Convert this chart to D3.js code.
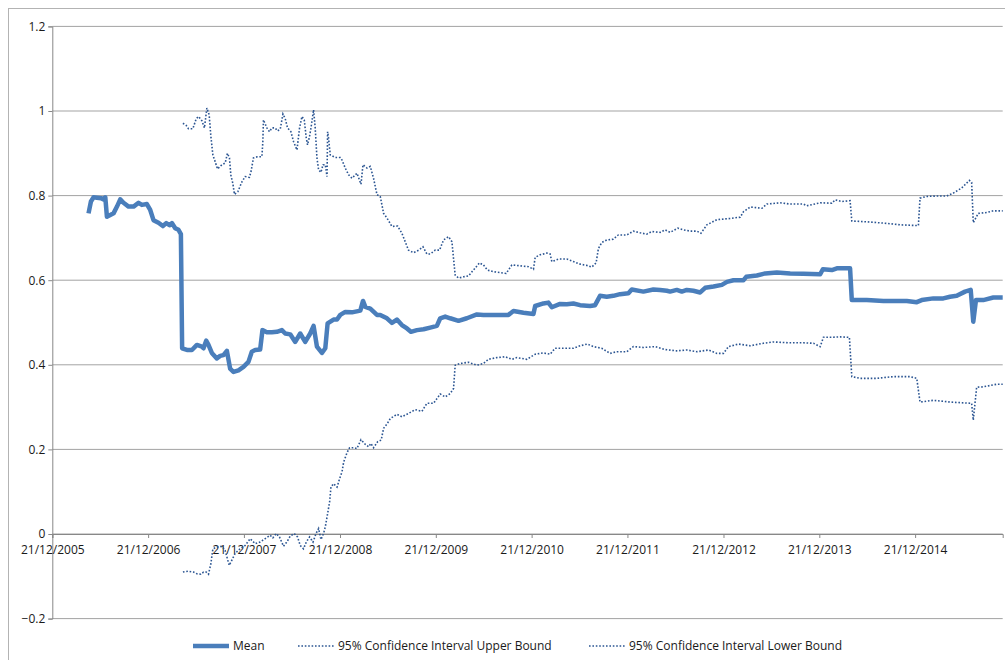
<!DOCTYPE html>
<html>
<head>
<meta charset="utf-8">
<script src="https://cdn.jsdelivr.net/npm/d3@7"></script>
<style>
  body { margin: 0; background: #fff; }
  text { font-family: "Open Sans", sans-serif; fill: #1a1a1a; }
</style>
</head>
<body>
<div id="chart"></div>
<script>
// Tick labels and axis values
const tickLabels = ["21/12/2005", "21/12/2006", "21/12/2007", "21/12/2008", "21/12/2009",
                    "21/12/2010", "21/12/2011", "21/12/2012", "21/12/2013", "21/12/2014"];
const yTicks = [-0.2, 0, 0.2, 0.4, 0.6, 0.8, 1, 1.2];
const xEndYear = 2015.884;

// [decimal year, value]
const meanSeries = [
  [2006.348,0.758],[2006.373,0.786],[2006.401,0.796],[2006.436,0.795],[2006.478,0.794],[2006.505,0.791],
  [2006.523,0.796],[2006.540,0.750],[2006.575,0.754],[2006.609,0.758],[2006.645,0.774],[2006.679,0.791],
  [2006.713,0.783],[2006.766,0.774],[2006.818,0.774],[2006.870,0.783],[2006.905,0.778],[2006.957,0.780],
  [2006.992,0.766],[2007.026,0.742],[2007.078,0.736],[2007.124,0.728],[2007.159,0.735],[2007.193,0.730],
  [2007.218,0.735],[2007.253,0.723],[2007.287,0.719],[2007.312,0.709],[2007.325,0.439],[2007.375,0.435],
  [2007.427,0.435],[2007.479,0.447],[2007.531,0.443],[2007.548,0.439],[2007.576,0.457],[2007.600,0.447],
  [2007.635,0.428],[2007.687,0.415],[2007.722,0.421],[2007.756,0.423],[2007.792,0.433],[2007.826,0.391],
  [2007.861,0.383],[2007.913,0.387],[2007.965,0.395],[2008.017,0.407],[2008.052,0.431],[2008.087,0.435],
  [2008.139,0.436],[2008.163,0.482],[2008.209,0.477],[2008.261,0.477],[2008.313,0.478],[2008.365,0.482],
  [2008.400,0.474],[2008.452,0.472],[2008.504,0.454],[2008.556,0.474],[2008.608,0.454],[2008.660,0.474],
  [2008.695,0.492],[2008.730,0.443],[2008.782,0.428],[2008.817,0.439],[2008.841,0.498],[2008.903,0.507],
  [2008.939,0.507],[2008.973,0.518],[2009.025,0.525],[2009.095,0.524],[2009.182,0.528],[2009.210,0.551],
  [2009.234,0.537],[2009.286,0.533],[2009.356,0.518],[2009.390,0.518],[2009.460,0.510],[2009.512,0.499],
  [2009.564,0.507],[2009.616,0.494],[2009.669,0.486],[2009.710,0.478],[2009.773,0.482],[2009.842,0.484],
  [2009.912,0.488],[2009.981,0.492],[2010.016,0.510],[2010.068,0.514],[2010.120,0.510],[2010.207,0.504],
  [2010.294,0.510],[2010.399,0.519],[2010.467,0.518],[2010.572,0.518],[2010.728,0.518],[2010.780,0.527],
  [2010.885,0.523],[2010.989,0.520],[2011.007,0.539],[2011.093,0.545],[2011.145,0.547],[2011.181,0.536],
  [2011.267,0.544],[2011.337,0.543],[2011.406,0.545],[2011.476,0.541],[2011.580,0.539],[2011.632,0.541],
  [2011.684,0.563],[2011.754,0.561],[2011.823,0.563],[2011.893,0.567],[2011.980,0.569],[2012.015,0.578],
  [2012.136,0.573],[2012.240,0.578],[2012.310,0.577],[2012.380,0.575],[2012.414,0.573],[2012.484,0.577],
  [2012.536,0.573],[2012.588,0.577],[2012.657,0.575],[2012.727,0.571],[2012.779,0.582],[2012.866,0.585],
  [2012.953,0.589],[2013.006,0.596],[2013.074,0.600],[2013.179,0.600],[2013.207,0.608],[2013.318,0.611],
  [2013.405,0.616],[2013.527,0.618],[2013.666,0.616],[2013.804,0.615],[2013.979,0.614],[2014.007,0.626],
  [2014.101,0.624],[2014.153,0.628],[2014.291,0.628],[2014.309,0.553],[2014.466,0.553],[2014.639,0.551],
  [2014.883,0.551],[2014.987,0.548],[2015.039,0.553],[2015.160,0.557],[2015.264,0.557],[2015.334,0.561],
  [2015.404,0.563],[2015.491,0.573],[2015.550,0.577],[2015.577,0.502],[2015.605,0.553],[2015.681,0.553],
  [2015.786,0.559],[2015.884,0.559]
];

const upperSeries = [
  [2007.333,0.971],[2007.367,0.966],[2007.391,0.958],[2007.437,0.958],[2007.472,0.982],[2007.496,0.987],
  [2007.531,0.977],[2007.558,0.960],[2007.583,1.007],[2007.607,0.991],[2007.625,0.940],[2007.646,0.896],
  [2007.670,0.880],[2007.694,0.863],[2007.740,0.873],[2007.774,0.877],[2007.798,0.900],[2007.819,0.889],
  [2007.833,0.849],[2007.854,0.829],[2007.871,0.803],[2007.906,0.809],[2007.948,0.832],[2007.983,0.845],
  [2008.027,0.843],[2008.045,0.858],[2008.069,0.889],[2008.111,0.892],[2008.157,0.892],[2008.167,0.928],
  [2008.173,0.979],[2008.209,0.960],[2008.236,0.951],[2008.261,0.960],[2008.295,0.960],[2008.319,0.953],
  [2008.348,0.957],[2008.376,0.993],[2008.400,0.982],[2008.424,0.960],[2008.459,0.951],[2008.486,0.928],
  [2008.522,0.908],[2008.549,0.960],[2008.574,0.987],[2008.598,0.979],[2008.619,0.936],[2008.632,0.920],
  [2008.653,0.940],[2008.668,0.960],[2008.695,1.003],[2008.712,0.960],[2008.730,0.889],[2008.747,0.861],
  [2008.772,0.855],[2008.793,0.873],[2008.817,0.873],[2008.835,0.845],[2008.841,0.951],[2008.851,0.936],
  [2008.869,0.896],[2008.921,0.890],[2008.973,0.890],[2008.991,0.884],[2009.025,0.865],[2009.060,0.849],
  [2009.095,0.841],[2009.147,0.853],[2009.189,0.827],[2009.210,0.873],[2009.252,0.865],[2009.286,0.869],
  [2009.320,0.841],[2009.356,0.802],[2009.390,0.798],[2009.425,0.758],[2009.460,0.747],[2009.512,0.727],
  [2009.571,0.728],[2009.616,0.711],[2009.685,0.671],[2009.738,0.665],[2009.790,0.671],[2009.836,0.679],
  [2009.877,0.662],[2009.912,0.662],[2009.964,0.671],[2010.009,0.671],[2010.050,0.695],[2010.103,0.703],
  [2010.138,0.691],[2010.172,0.612],[2010.207,0.605],[2010.259,0.608],[2010.311,0.610],[2010.363,0.624],
  [2010.426,0.641],[2010.467,0.636],[2010.509,0.624],[2010.572,0.620],[2010.642,0.618],[2010.704,0.616],
  [2010.764,0.636],[2010.850,0.634],[2010.937,0.632],[2010.989,0.626],[2011.007,0.654],[2011.059,0.660],
  [2011.129,0.664],[2011.163,0.662],[2011.181,0.644],[2011.250,0.650],[2011.337,0.650],[2011.406,0.644],
  [2011.476,0.638],[2011.546,0.635],[2011.598,0.631],[2011.643,0.641],[2011.667,0.675],[2011.702,0.689],
  [2011.754,0.695],[2011.823,0.697],[2011.875,0.707],[2011.963,0.707],[2012.032,0.716],[2012.102,0.712],
  [2012.171,0.709],[2012.224,0.715],[2012.310,0.713],[2012.362,0.719],[2012.414,0.713],[2012.495,0.723],
  [2012.553,0.719],[2012.623,0.716],[2012.693,0.716],[2012.735,0.711],[2012.797,0.731],[2012.901,0.743],
  [2013.040,0.746],[2013.144,0.749],[2013.179,0.762],[2013.249,0.773],[2013.371,0.770],[2013.423,0.780],
  [2013.561,0.783],[2013.666,0.780],[2013.804,0.780],[2013.840,0.776],[2013.979,0.783],[2014.101,0.782],
  [2014.135,0.790],[2014.205,0.786],[2014.291,0.788],[2014.309,0.740],[2014.466,0.738],[2014.639,0.735],
  [2014.813,0.731],[2015.004,0.729],[2015.021,0.794],[2015.091,0.798],[2015.196,0.799],[2015.300,0.799],
  [2015.369,0.806],[2015.456,0.818],[2015.536,0.836],[2015.560,0.831],[2015.577,0.736],[2015.629,0.758],
  [2015.717,0.760],[2015.786,0.764],[2015.884,0.764]
];

const lowerSeries = [
  [2007.333,-0.090],[2007.391,-0.088],[2007.443,-0.090],[2007.479,-0.094],[2007.521,-0.095],[2007.548,-0.090],
  [2007.576,-0.090],[2007.600,-0.095],[2007.625,-0.070],[2007.646,-0.035],[2007.687,-0.031],[2007.740,-0.029],
  [2007.774,-0.039],[2007.792,-0.054],[2007.816,-0.074],[2007.844,-0.062],[2007.878,-0.046],[2007.930,-0.035],
  [2007.983,-0.027],[2008.035,-0.011],[2008.087,-0.023],[2008.139,-0.019],[2008.191,-0.011],[2008.243,-0.003],
  [2008.271,-0.009],[2008.306,0.001],[2008.340,-0.007],[2008.382,-0.029],[2008.417,-0.019],[2008.452,-0.005],
  [2008.494,0.001],[2008.528,-0.007],[2008.556,-0.027],[2008.590,-0.035],[2008.619,-0.019],[2008.653,-0.007],
  [2008.689,-0.019],[2008.720,0.001],[2008.747,0.013],[2008.772,-0.013],[2008.799,0.001],[2008.817,0.017],
  [2008.835,0.040],[2008.862,0.076],[2008.876,0.111],[2008.903,0.119],[2008.939,0.111],[2008.966,0.131],
  [2008.991,0.147],[2009.008,0.170],[2009.043,0.192],[2009.070,0.204],[2009.112,0.204],[2009.147,0.202],
  [2009.189,0.223],[2009.234,0.212],[2009.268,0.206],[2009.293,0.214],[2009.320,0.204],[2009.362,0.218],
  [2009.400,0.222],[2009.425,0.250],[2009.460,0.260],[2009.495,0.273],[2009.564,0.283],[2009.616,0.277],
  [2009.685,0.285],[2009.755,0.294],[2009.825,0.290],[2009.877,0.309],[2009.946,0.309],[2010.016,0.331],
  [2010.068,0.324],[2010.120,0.332],[2010.155,0.344],[2010.172,0.399],[2010.225,0.403],[2010.311,0.406],
  [2010.399,0.399],[2010.467,0.403],[2010.520,0.413],[2010.607,0.417],[2010.694,0.419],[2010.764,0.413],
  [2010.816,0.417],[2010.920,0.413],[2011.007,0.425],[2011.093,0.428],[2011.163,0.425],[2011.215,0.439],
  [2011.302,0.439],[2011.406,0.439],[2011.476,0.445],[2011.552,0.449],[2011.615,0.443],[2011.702,0.439],
  [2011.789,0.427],[2011.859,0.431],[2011.963,0.431],[2012.032,0.443],[2012.136,0.441],[2012.258,0.443],
  [2012.362,0.436],[2012.484,0.433],[2012.588,0.435],[2012.693,0.431],[2012.814,0.435],[2012.901,0.427],
  [2012.970,0.427],[2013.022,0.443],[2013.127,0.449],[2013.249,0.445],[2013.387,0.451],[2013.492,0.454],
  [2013.666,0.452],[2013.804,0.452],[2013.909,0.451],[2013.979,0.443],[2014.013,0.465],[2014.101,0.465],
  [2014.187,0.466],[2014.284,0.465],[2014.309,0.372],[2014.396,0.368],[2014.570,0.368],[2014.743,0.372],
  [2014.917,0.372],[2014.987,0.368],[2015.021,0.312],[2015.160,0.316],[2015.334,0.312],[2015.473,0.310],
  [2015.560,0.309],[2015.577,0.269],[2015.612,0.347],[2015.681,0.348],[2015.821,0.354],[2015.884,0.354]
];

const legendItems = [
  { label: "Mean", key: "mean", x: 193 },
  { label: "95% Confidence Interval Upper Bound", key: "ci", x: 298 },
  { label: "95% Confidence Interval Lower Bound", key: "ci", x: 589 }
];

let margin = { top: 26.4, right: 2.3, bottom: 41.4, left: 52.3 },
    width = 1005 - margin.left - margin.right,
    height = 660 - margin.top - margin.bottom;

const parseDate = d3.utcParse("%d/%m/%Y");

// decimal year -> Date
function toDate(t) {
  const yr = Math.floor(t);
  const a = Date.UTC(yr, 0, 1), b = Date.UTC(yr + 1, 0, 1);
  return new Date(a + (t - yr) * (b - a));
}

let svg = d3.select("#chart")
  .append("svg")
  .attr("width", 1005)
  .attr("height", 660);

// chart area border
svg.append("rect")
  .attr("x", 8.5).attr("y", 8.5)
  .attr("width", 1100).attr("height", 700)
  .attr("fill", "none")
  .attr("stroke", "#b3b3b3");

let chart = svg.append("g")
  .attr("transform", "translate(" + margin.left + "," + margin.top + ")");

let x = d3.scaleUtc()
  .domain([parseDate(tickLabels[0]), toDate(xEndYear)])
  .range([0, width]);

let y = d3.scaleLinear()
  .domain([-0.2, 1.2])
  .range([height, 0]);

// horizontal gridlines
chart.append("g")
  .selectAll("line")
  .data(yTicks)
  .enter()
  .append("line")
  .attr("x1", 0).attr("x2", width)
  .attr("y1", d => y(d)).attr("y2", d => y(d))
  .attr("stroke", "#a3a3a3")
  .attr("stroke-width", 1);

// Y axis
let yAxis = chart.append("g")
  .call(d3.axisLeft(y).tickValues(yTicks).tickSize(4).tickPadding(3)
    .tickFormat(d => d3.format("")(+d.toFixed(1))));
yAxis.select(".domain").attr("stroke", "#888");
yAxis.selectAll(".tick line").attr("stroke", "#888");
yAxis.selectAll("text").style("font-size", "12px").style("font-family", "'Open Sans', sans-serif");

// X axis, crossing at 0
let xAxis = chart.append("g")
  .attr("transform", "translate(0," + y(0) + ")")
  .call(d3.axisBottom(x).tickValues(tickLabels.map(parseDate)).tickSize(4).tickPadding(7)
    .tickFormat(d3.utcFormat("%d/%m/%Y")));
xAxis.select(".domain").attr("stroke", "#888");
xAxis.selectAll(".tick line").attr("stroke", "#888");
xAxis.selectAll("text").style("font-size", "12px").style("font-family", "'Open Sans', sans-serif");

let line = d3.line()
  .x(d => x(toDate(d[0])))
  .y(d => y(d[1]));

const ciStyle = sel => sel
  .attr("fill", "none")
  .attr("stroke", "#2b5592")
  .attr("stroke-width", 1.6)
  .attr("stroke-dasharray", "1.6 1.8");

chart.append("path").datum(upperSeries).attr("d", line).call(ciStyle);
chart.append("path").datum(lowerSeries).attr("d", line).call(ciStyle);

chart.append("path")
  .datum(meanSeries)
  .attr("d", line)
  .attr("fill", "none")
  .attr("stroke", "#4a7ebb")
  .attr("stroke-width", 4.5)
  .attr("stroke-linejoin", "round");

// Legend
let legend = svg.append("g").attr("transform", "translate(0,646)");
legendItems.forEach(item => {
  let ln = legend.append("line")
    .attr("x1", item.x).attr("x2", item.x + 36)
    .attr("y1", 0).attr("y2", 0);
  if (item.key === "mean") {
    ln.attr("stroke", "#4a7ebb").attr("stroke-width", 4.5);
  } else {
    ln.call(ciStyle);
  }
  legend.append("text")
    .attr("x", item.x + 40)
    .attr("y", 0)
    .attr("dy", "0.35em")
    .style("font-size", "12px")
    .text(item.label);
});
</script>
</body>
</html>
